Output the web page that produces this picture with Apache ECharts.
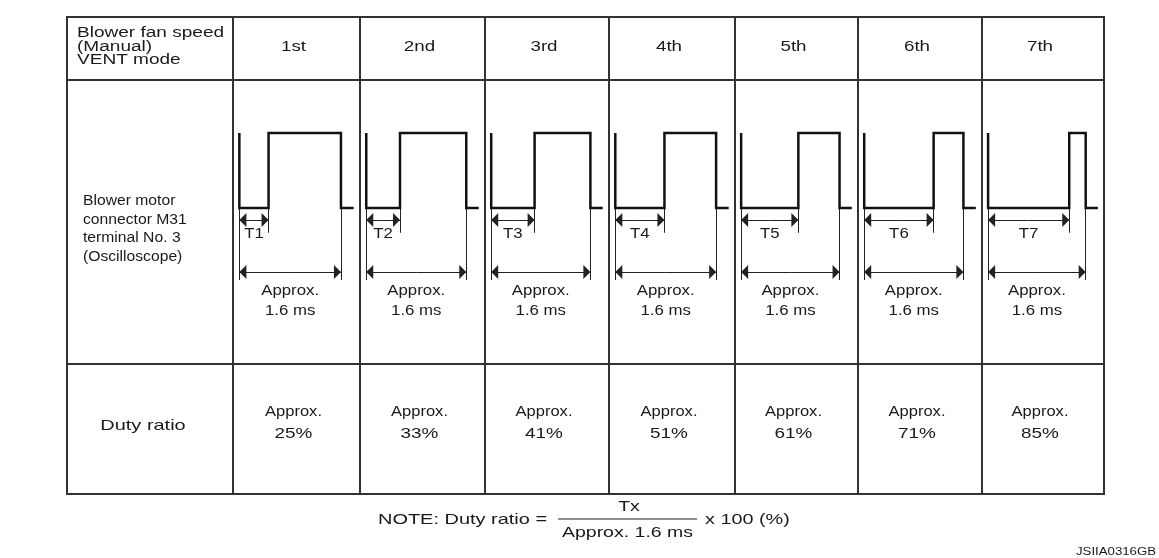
<!DOCTYPE html>
<html><head><meta charset="utf-8">
<script src="https://cdn.jsdelivr.net/npm/echarts@6/dist/echarts.min.js"></script>
<style>html,body{margin:0;padding:0;background:#fff}#c{width:1159px;height:558px}</style>
</head><body><div id="c"></div>
<script>
// ---------- data ----------
const speeds = ['1st', '2nd', '3rd', '4th', '5th', '6th', '7th'];
const dutyRatios = [25, 33, 41, 51, 61, 71, 85];
const tLabels = ['T1', 'T2', 'T3', 'T4', 'T5', 'T6', 'T7'];
const lowTimesMs = [0.46, 0.54, 0.70, 0.78, 0.93, 1.12, 1.33]; // Tx as drawn
const periodMs = 1.6;
const tailMs = 0.2;
const headerLines = ['Blower fan speed', '(Manual)', 'VENT mode'];
const waveRowLines = ['Blower motor', 'connector M31', 'terminal No. 3', '(Oscilloscope)'];
const dutyRowLabel = 'Duty ratio';
const approxLabel = 'Approx.';
const periodLabel = '1.6 ms';
const noteLabel = 'NOTE: Duty ratio =';
const noteNumerator = 'Tx';
const noteDenominator = 'Approx. 1.6 ms';
const noteTail = 'x 100 (%)';
const figureCode = 'JSIIA0316GB';

// ---------- layout ----------
const colX = [67, 233, 360, 485, 609, 735, 858, 982, 1104];
const rowY = [17, 80, 364, 494];
const FONT = '"Liberation Sans", Arial, Helvetica, sans-serif';
const INK = '#1a1a1a';
const LINE = '#333';
const yLevels = { high: 1, low: 0, tArrow: -0.16, tExt: -0.33, pArrow: -0.853, ext: -0.96 };

const chart = echarts.init(document.getElementById('c'), null, { renderer: 'canvas' });

const grids = [], xAxes = [], yAxes = [], series = [];
const arrowPath = 'path://M0,0L4,10L-4,10Z M0,-10L0,-10';
// a dimension line: two half segments from its middle, each ending in an arrow
function dimension(x1, x2, y) {
  const m = (x1 + x2) / 2;
  return [{ coords: [[m, y], [x1, y]] }, { coords: [[m, y], [x2, y]] }];
}
speeds.forEach((s, i) => {
  grids.push({ left: colX[i + 1], top: 118, width: colX[i + 2] - colX[i + 1], height: 180 });
  xAxes.push({ gridIndex: i, type: 'value', min: -0.1, max: 1.9, show: false });
  yAxes.push({ gridIndex: i, type: 'value', min: -1.2, max: 1.2, show: false });
  const T = lowTimesMs[i], P = periodMs;
  series.push({
    type: 'line', xAxisIndex: i, yAxisIndex: i, symbol: 'none', animation: false,
    lineStyle: { color: '#111', width: 2.5, join: 'miter' },
    data: [[0, yLevels.high], [0, yLevels.low], [T, yLevels.low], [T, yLevels.high],
           [P, yLevels.high], [P, yLevels.low], [P + tailMs, yLevels.low]]
  });
  series.push({
    type: 'lines', coordinateSystem: 'cartesian2d', xAxisIndex: i, yAxisIndex: i,
    animation: false, symbol: 'none',
    lineStyle: { color: '#222', width: 1, opacity: 1, curveness: 0 },
    data: [
      { coords: [[0, yLevels.low], [0, yLevels.ext]] },
      { coords: [[T, yLevels.low], [T, yLevels.tExt]] },
      { coords: [[P, yLevels.low], [P, yLevels.ext]] }
    ]
  });
  series.push({
    type: 'lines', coordinateSystem: 'cartesian2d', xAxisIndex: i, yAxisIndex: i,
    animation: false, symbol: ['none', arrowPath], symbolSize: [5, 14],
    lineStyle: { color: '#222', width: 1, opacity: 1, curveness: 0 },
    itemStyle: { color: '#222' },
    data: dimension(0, T, yLevels.tArrow).concat(dimension(0, P, yLevels.pArrow))
  });
});

chart.setOption({
  backgroundColor: '#fff', animation: false,
  grid: grids, xAxis: xAxes, yAxis: yAxes, series: series
});

function txt(x, y, s, size, sx, align) {
  return {
    type: 'text', x: x, y: y, scaleX: sx, scaleY: 1, silent: true, z: 10,
    style: { text: s, font: size + 'px ' + FONT, fill: INK,
      textAlign: align || 'center', textVerticalAlign: 'middle',
      align: align || 'center', verticalAlign: 'middle' }
  };
}
function hline(x1, x2, y, w, c) {
  return { type: 'line', silent: true, z: 5, shape: { x1: x1, y1: y, x2: x2, y2: y }, style: { stroke: c || LINE, lineWidth: w || 2 } };
}
function vline(x, y1, y2, w, c) {
  return { type: 'line', silent: true, z: 5, shape: { x1: x, y1: y1, x2: x, y2: y2 }, style: { stroke: c || LINE, lineWidth: w || 2 } };
}

const g = [];
// table frame
g.push({ type: 'rect', silent: true, z: 5, shape: { x: colX[0], y: rowY[0], width: colX[8] - colX[0], height: rowY[3] - rowY[0] },
  style: { fill: 'none', stroke: LINE, lineWidth: 2 } });
for (let r = 1; r < rowY.length - 1; r++) g.push(hline(colX[0], colX[8], rowY[r]));
for (let c = 1; c < colX.length - 1; c++) g.push(vline(colX[c], rowY[0], rowY[3]));

// header
headerLines.forEach((s, k) => g.push(txt(77, 33.5 + k * 13.4, s, 14, 1.36, 'left')));
speeds.forEach((s, i) => g.push(txt((colX[i + 1] + colX[i + 2]) / 2 - 3, 47, s, 14, 1.34)));

// waveform row
waveRowLines.forEach((s, k) => g.push(txt(83, 201.5 + k * 18.5, s, 14, 1.12, 'left')));
speeds.forEach((s, i) => {
  const T = lowTimesMs[i], P = periodMs;
  const pT = chart.convertToPixel({ gridIndex: i }, [T / 2, 0]);
  const pP = chart.convertToPixel({ gridIndex: i }, [P / 2, 0]);
  g.push(txt(pT[0], 234, tLabels[i], 14, 1.2));
  g.push(txt(pP[0], 291.5, approxLabel, 14, 1.2));
  g.push(txt(pP[0], 311, periodLabel, 14, 1.2));
});

// duty row
g.push(txt(143, 426, dutyRowLabel, 15, 1.33));
dutyRatios.forEach((d, i) => {
  const cx = (colX[i + 1] + colX[i + 2]) / 2 - 3;
  g.push(txt(cx, 412, approxLabel, 14, 1.18));
  g.push(txt(cx, 434, d + '%', 14, 1.35));
});

// note
g.push(txt(378, 520, noteLabel, 15, 1.33, 'left'));
g.push(hline(558, 697, 519, 1, '#222'));
g.push(txt(629, 507, noteNumerator, 15, 1.3));
g.push(txt(627.5, 533, noteDenominator, 15, 1.3));
g.push(txt(705, 520, noteTail, 15, 1.32, 'left'));
g.push(txt(1156, 552, figureCode, 10, 1.32, 'right'));

chart.setOption({ graphic: { elements: g } });
</script>
</body></html>
